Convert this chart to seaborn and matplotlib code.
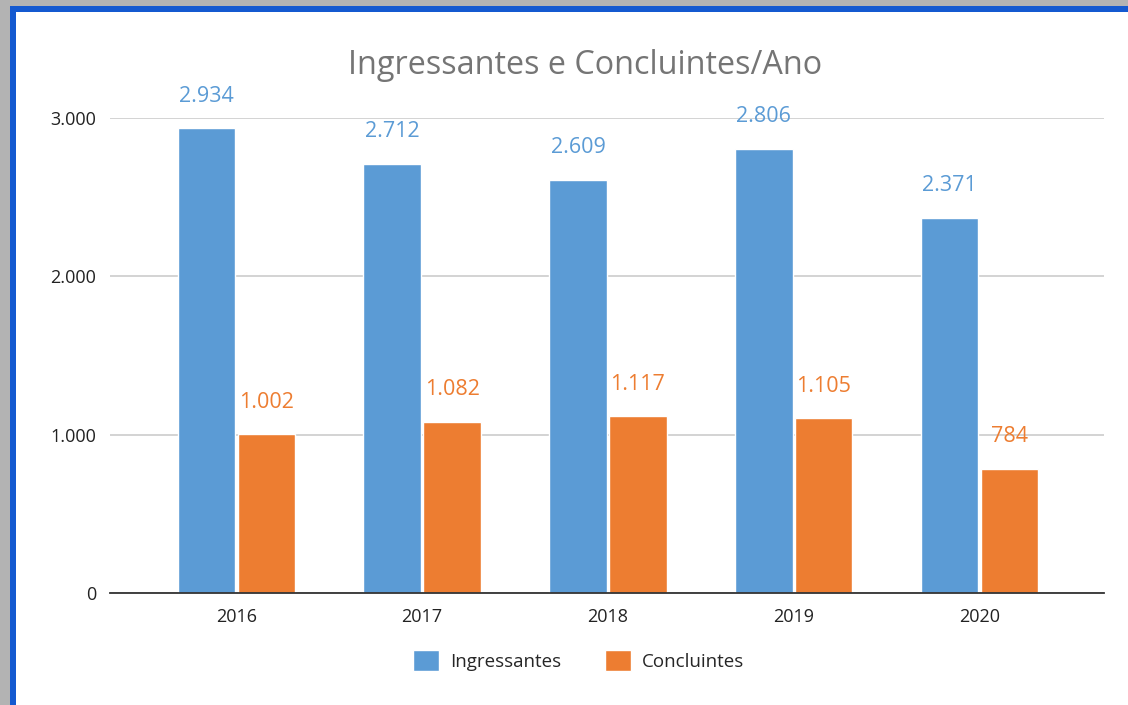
import matplotlib.pyplot as plt
import matplotlib.patches as mpatches
import pandas as pd
import seaborn as sns

# Data
years = ["2016", "2017", "2018", "2019", "2020"]
ingressantes = [2934, 2712, 2609, 2806, 2371]
concluintes = [1002, 1082, 1117, 1105, 784]
series_names = ["Ingressantes", "Concluintes"]
colors = ["#5B9BD5", "#ED7D31"]

df = pd.DataFrame({
    "ano": years * 2,
    "valor": ingressantes + concluintes,
    "serie": [series_names[0]] * len(years) + [series_names[1]] * len(years),
})


def fmt(v):
    return f"{v:,}".replace(",", ".")


sns.set_style("white")
plt.rcParams["font.family"] = ["Open Sans", "DejaVu Sans"]

fig = plt.figure(figsize=(11.28, 7.05), dpi=100)
ax = fig.add_axes([0.0975, 0.1589, 0.8812, 0.6737])

sns.barplot(data=df, x="ano", y="valor", hue="serie", palette=colors,
            width=0.645, gap=0.04, saturation=1, ax=ax, legend=False)

# value labels
for cont, color in zip(ax.containers, colors):
    for bar in cont:
        h = bar.get_height()
        ax.annotate(fmt(int(round(h))), (bar.get_x() + bar.get_width() / 2, h),
                    xytext=(0, 23), textcoords="offset points",
                    ha="center", va="center", fontsize=15.5, color=color,
                    annotation_clip=False)

ax.set_ylim(0, 3000)
ax.set_xlim(-0.68, 4.67)
ax.set_yticks([0, 1000, 2000, 3000])
ax.set_yticklabels([fmt(t) for t in [0, 1000, 2000, 3000]])
ax.yaxis.grid(True, color="#cccccc", linewidth=1.2)
ax.set_axisbelow(True)
for s in ["top", "right", "left"]:
    ax.spines[s].set_visible(False)
ax.spines["bottom"].set_color("#333333")
ax.spines["bottom"].set_linewidth(1.3)
ax.tick_params(axis="both", length=0, labelsize=13, colors="#222222", pad=11)
ax.tick_params(axis="y", pad=10)
ax.set_xlabel("")
ax.set_ylabel("")

fig.text(0.519, 0.907, "Ingressantes e Concluintes/Ano", ha="center", va="center",
         fontsize=23.3, color="#757575")

handles = [mpatches.Patch(facecolor=c, label=n) for c, n in zip(colors, series_names)]
fig.legend(handles=handles, loc="center", bbox_to_anchor=(0.513, 0.063), ncol=2,
           frameon=False, fontsize=13.5, handlelength=1.4, handleheight=1.4,
           columnspacing=2.3, handletextpad=0.6)

# window frame: gray outside, blue border left/top
fig.patches.append(mpatches.Rectangle((0, 0), 10 / 1128, 1, transform=fig.transFigure,
                                      facecolor="#b3b3b3", edgecolor="none"))
fig.patches.append(mpatches.Rectangle((0, 1 - 6 / 705), 1, 6 / 705, transform=fig.transFigure,
                                      facecolor="#b3b3b3", edgecolor="none"))
fig.patches.append(mpatches.Rectangle((10 / 1128, 0), 6 / 1128, 1 - 6 / 705, transform=fig.transFigure,
                                      facecolor="#1459D0", edgecolor="none"))
fig.patches.append(mpatches.Rectangle((10 / 1128, 1 - 12 / 705), 1, 6 / 705, transform=fig.transFigure,
                                      facecolor="#1459D0", edgecolor="none"))

fig.savefig("out.png", dpi=100)
